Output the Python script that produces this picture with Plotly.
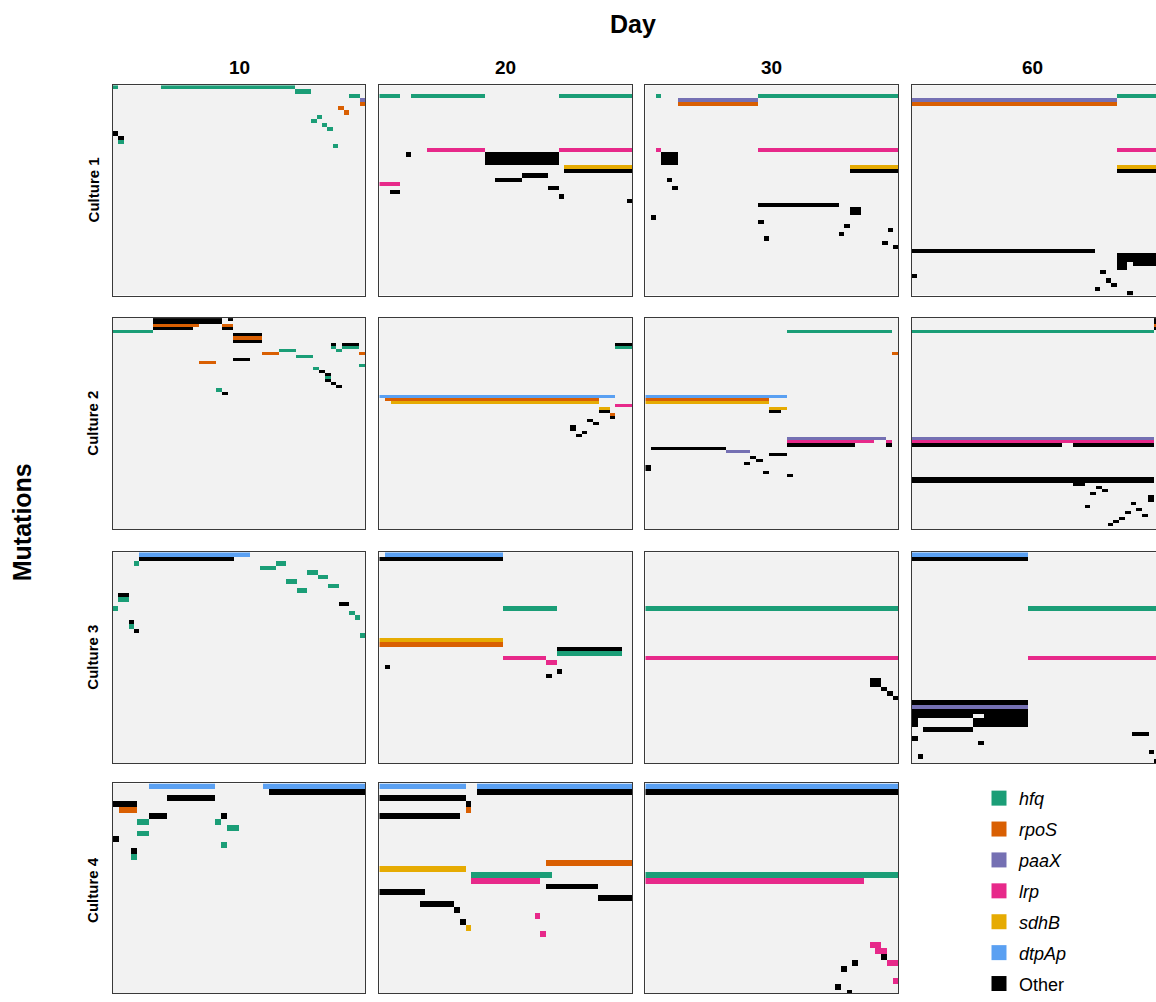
import numpy as np
import plotly.graph_objects as go

# ---------------- data ----------------
genes = ["hfq", "rpoS", "paaX", "lrp", "sdhB", "dtpAp", "Other"]
gene_colors = ["#1B9E77", "#D95F02", "#7570B3", "#E7298A", "#E6AB02", "#5AA0F2", "#000000"]
absent_color = "#F2F2F2"
days = ["10", "20", "30", "60"]
cultures = ["Culture 1", "Culture 2", "Culture 3", "Culture 4"]
mutations_per_culture = [50, 69, 47, 36]
clones_per_panel = [[47, 48, 47, 47],
                    [44, 45, 41, 44],
                    [48, 47, 45, 46],
                    [42, 44, 44, None]]

# runs: (mutation row, first clone, last clone, gene)
c1_d10 = [(0, 0, 0, "hfq"), (0, 9, 33, "hfq"), (1, 34, 36, "hfq"), (2, 44, 45, "hfq"),
          (3, 46, 46, "paaX"), (4, 46, 46, "rpoS"), (5, 42, 42, "rpoS"), (6, 43, 43, "rpoS"),
          (7, 38, 38, "hfq"), (8, 37, 37, "hfq"), (9, 39, 39, "hfq"), (10, 40, 40, "hfq"),
          (11, 0, 0, "Other"), (12, 1, 1, "Other"), (13, 1, 1, "hfq"), (14, 41, 41, "hfq")]
c1_d20 = [(2, 0, 3, "hfq"), (2, 6, 19, "hfq"), (2, 34, 47, "hfq"), (15, 9, 19, "lrp"),
          (15, 34, 47, "lrp"), (16, 20, 33, "Other"), (17, 20, 33, "Other"), (18, 20, 33, "Other"),
          (16, 5, 5, "Other"), (19, 35, 47, "sdhB"), (20, 35, 47, "Other"), (21, 27, 31, "Other"),
          (22, 22, 26, "Other"), (23, 0, 3, "lrp"), (24, 32, 33, "Other"), (25, 2, 3, "Other"),
          (26, 34, 34, "Other"), (27, 47, 47, "Other")]
c1_d30 = [(2, 2, 2, "hfq"), (3, 6, 20, "paaX"), (4, 6, 20, "rpoS"), (2, 21, 46, "hfq"),
          (15, 2, 2, "lrp"), (16, 3, 5, "Other"), (17, 3, 5, "Other"), (18, 3, 5, "Other"),
          (15, 21, 46, "lrp"), (19, 38, 46, "sdhB"), (20, 38, 46, "Other"), (22, 4, 4, "Other"),
          (24, 5, 5, "Other"), (28, 21, 35, "Other"), (29, 38, 39, "Other"), (30, 38, 39, "Other"),
          (31, 1, 1, "Other"), (32, 21, 21, "Other"), (33, 37, 37, "Other"), (34, 45, 45, "Other"),
          (35, 36, 36, "Other"), (36, 22, 22, "Other"), (37, 44, 44, "Other"), (38, 46, 46, "Other")]
c1_d60 = [(3, 0, 37, "paaX"), (4, 0, 37, "rpoS"), (2, 38, 46, "hfq"), (15, 38, 46, "lrp"),
          (19, 38, 46, "sdhB"), (20, 38, 46, "Other"), (39, 0, 33, "Other"), (40, 38, 46, "Other"),
          (41, 38, 46, "Other"), (42, 38, 39, "Other"), (42, 41, 46, "Other"), (43, 38, 39, "Other"),
          (44, 35, 35, "Other"), (45, 0, 0, "Other"), (46, 36, 36, "Other"), (47, 37, 37, "Other"),
          (48, 34, 34, "Other"), (49, 40, 40, "Other")]

c2_d10 = [(0, 7, 18, "Other"), (1, 7, 18, "Other"), (0, 20, 20, "Other"), (2, 7, 14, "rpoS"),
          (2, 19, 20, "rpoS"), (3, 7, 13, "Other"), (3, 19, 20, "Other"), (4, 0, 6, "hfq"),
          (5, 21, 25, "Other"), (6, 21, 25, "rpoS"), (7, 21, 25, "Other"), (8, 38, 38, "Other"),
          (8, 40, 42, "Other"), (9, 38, 38, "hfq"), (9, 40, 42, "hfq"), (10, 39, 39, "hfq"),
          (10, 29, 31, "hfq"), (11, 26, 28, "rpoS"), (11, 43, 43, "rpoS"), (12, 32, 34, "hfq"),
          (13, 21, 23, "Other"), (14, 15, 17, "rpoS"), (15, 43, 43, "hfq"), (16, 35, 35, "hfq"),
          (17, 36, 36, "Other"), (18, 37, 37, "Other"), (19, 37, 37, "hfq"), (20, 37, 37, "Other"),
          (21, 38, 38, "Other"), (22, 39, 39, "Other"), (23, 18, 18, "hfq"), (24, 19, 19, "Other")]
c2_d20 = [(8, 42, 44, "Other"), (9, 42, 44, "hfq"), (25, 0, 41, "dtpAp"), (26, 1, 38, "rpoS"),
          (27, 2, 38, "sdhB"), (28, 42, 44, "lrp"), (29, 39, 40, "sdhB"), (30, 39, 40, "Other"),
          (31, 41, 41, "rpoS"), (32, 41, 41, "Other"), (33, 37, 37, "Other"), (34, 38, 38, "Other"),
          (35, 34, 34, "Other"), (36, 34, 34, "Other"), (37, 36, 36, "Other"), (38, 35, 35, "Other")]
c2_d30 = [(4, 23, 39, "hfq"), (11, 40, 40, "rpoS"), (25, 0, 22, "dtpAp"), (26, 0, 19, "rpoS"),
          (27, 0, 19, "sdhB"), (29, 20, 22, "sdhB"), (30, 20, 21, "Other"), (39, 23, 38, "paaX"),
          (40, 23, 36, "lrp"), (40, 39, 39, "lrp"), (41, 23, 33, "Other"), (41, 39, 39, "Other"),
          (42, 1, 12, "Other"), (43, 13, 16, "paaX"), (44, 20, 22, "Other"), (45, 17, 17, "Other"),
          (46, 18, 18, "Other"), (47, 16, 16, "Other"), (48, 0, 0, "Other"), (49, 0, 0, "Other"),
          (50, 19, 19, "Other"), (51, 23, 23, "Other")]
c2_d60 = [(0, 42, 43, "Other"), (1, 42, 43, "Other"), (2, 42, 43, "rpoS"), (3, 42, 43, "Other"),
          (4, 0, 41, "hfq"), (39, 0, 41, "paaX"), (40, 0, 41, "lrp"), (41, 0, 25, "Other"),
          (41, 28, 41, "Other"), (52, 0, 41, "Other"), (53, 0, 41, "Other"), (54, 28, 29, "Other"),
          (55, 32, 32, "Other"), (56, 33, 33, "Other"), (57, 31, 31, "Other"), (58, 41, 41, "Other"),
          (59, 41, 41, "Other"), (60, 38, 38, "Other"), (61, 30, 30, "Other"), (62, 39, 39, "Other"),
          (63, 37, 37, "Other"), (64, 40, 40, "Other"), (65, 36, 36, "Other"), (66, 35, 35, "Other"),
          (67, 34, 34, "Other")]

c3_d10 = [(0, 5, 25, "dtpAp"), (1, 5, 22, "Other"), (2, 4, 4, "hfq"), (2, 31, 32, "hfq"),
          (3, 28, 30, "hfq"), (4, 37, 38, "hfq"), (5, 39, 40, "hfq"), (6, 33, 34, "hfq"),
          (7, 41, 42, "hfq"), (8, 35, 36, "hfq"), (9, 1, 2, "Other"), (10, 1, 2, "hfq"),
          (11, 43, 44, "Other"), (12, 0, 0, "hfq"), (13, 45, 45, "hfq"), (14, 46, 46, "hfq"),
          (15, 3, 3, "Other"), (16, 3, 3, "hfq"), (17, 4, 4, "Other"), (18, 47, 47, "hfq")]
c3_d20 = [(0, 1, 22, "dtpAp"), (1, 0, 22, "Other"), (12, 23, 32, "hfq"), (19, 0, 22, "sdhB"),
          (20, 0, 22, "rpoS"), (21, 33, 44, "Other"), (22, 33, 44, "hfq"), (23, 23, 30, "lrp"),
          (24, 31, 32, "lrp"), (25, 1, 1, "Other"), (26, 33, 33, "Other"), (27, 31, 31, "Other")]
c3_d30 = [(12, 0, 44, "hfq"), (23, 0, 44, "lrp"), (28, 40, 41, "Other"), (29, 40, 41, "Other"),
          (30, 42, 42, "Other"), (31, 43, 43, "Other"), (32, 44, 44, "Other")]
c3_d60 = [(0, 0, 20, "dtpAp"), (1, 0, 20, "Other"), (12, 21, 45, "hfq"), (23, 21, 45, "lrp"),
          (33, 0, 20, "Other"), (34, 0, 20, "paaX"), (35, 0, 20, "Other"), (36, 0, 10, "Other"),
          (36, 13, 20, "Other"), (37, 0, 0, "Other"), (37, 11, 20, "Other"), (38, 0, 0, "Other"),
          (38, 11, 20, "Other"), (39, 2, 10, "Other"), (40, 40, 42, "Other"), (41, 0, 0, "Other"),
          (42, 12, 12, "Other"), (44, 43, 43, "Other"), (45, 1, 1, "Other"), (46, 44, 44, "Other")]

c4_d10 = [(0, 6, 16, "dtpAp"), (0, 25, 41, "dtpAp"), (1, 26, 41, "Other"), (2, 9, 16, "Other"),
          (3, 0, 3, "Other"), (4, 1, 3, "rpoS"), (5, 6, 8, "Other"), (5, 18, 18, "Other"),
          (6, 4, 5, "hfq"), (6, 17, 17, "hfq"), (7, 19, 20, "hfq"), (8, 4, 5, "hfq"),
          (9, 0, 0, "Other"), (10, 18, 18, "hfq"), (11, 3, 3, "Other"), (12, 3, 3, "hfq")]
c4_d20 = [(0, 0, 14, "dtpAp"), (0, 17, 43, "dtpAp"), (1, 17, 43, "Other"), (2, 0, 14, "Other"),
          (3, 15, 15, "Other"), (4, 15, 15, "rpoS"), (5, 0, 13, "Other"), (13, 29, 43, "rpoS"),
          (14, 0, 14, "sdhB"), (15, 16, 29, "hfq"), (16, 16, 27, "lrp"), (17, 29, 37, "Other"),
          (18, 0, 7, "Other"), (19, 38, 43, "Other"), (20, 7, 12, "Other"), (21, 13, 13, "Other"),
          (22, 27, 27, "lrp"), (23, 14, 14, "Other"), (24, 15, 15, "sdhB"), (25, 28, 28, "lrp")]
c4_d30 = [(0, 0, 43, "dtpAp"), (1, 0, 43, "Other"), (15, 0, 43, "hfq"), (16, 0, 37, "lrp"),
          (27, 39, 40, "lrp"), (28, 40, 41, "lrp"), (29, 41, 41, "Other"), (30, 36, 36, "Other"),
          (30, 42, 43, "lrp"), (31, 34, 34, "Other"), (33, 43, 43, "lrp"), (34, 33, 33, "Other"),
          (35, 35, 35, "Other")]

panel_runs = [[c1_d10, c1_d20, c1_d30, c1_d60],
              [c2_d10, c2_d20, c2_d30, c2_d60],
              [c3_d10, c3_d20, c3_d30, c3_d60],
              [c4_d10, c4_d20, c4_d30, None]]

# ---------------- layout geometry (pixels) ----------------
W, H = 1156, 1002
col_px = [(113, 365.3), (379.3, 632), (645.3, 898.3), (912, 1164.5)]
row_px = [(86, 298.3), (321, 534), (557.3, 770), (790.5, 1004)]

n_codes = len(genes) + 1
colors_all = [absent_color] + gene_colors
colorscale = []
for i, c in enumerate(colors_all):
    colorscale.append([i / n_codes, c])
    colorscale.append([(i + 1) / n_codes, c])

fig = go.Figure()
layout_axes = {}
k = 0
for r in range(4):
    for c in range(4):
        runs = panel_runs[r][c]
        if runs is None:
            continue
        k += 1
        nrow = mutations_per_culture[r]
        ncol = clones_per_panel[r][c]
        z = np.zeros((nrow, ncol), dtype=int)
        for (m, a, b, g) in runs:
            z[m, a:b + 1] = genes.index(g) + 1
        xname = "x" if k == 1 else f"x{k}"
        yname = "y" if k == 1 else f"y{k}"
        fig.add_trace(go.Heatmap(
            z=z, x=np.arange(ncol), y=np.arange(nrow),
            colorscale=colorscale, zmin=-0.5, zmax=n_codes - 0.5,
            showscale=False, hoverinfo="skip", xaxis=xname, yaxis=yname))
        x0, x1 = col_px[c]
        y0, y1 = row_px[r]
        vx1 = min(x1, W)
        vy1 = min(y1, H)
        xr = [-0.5, -0.5 + ncol * (vx1 - x0) / (x1 - x0)]
        yr = [-0.5 + nrow * (vy1 - y0) / (y1 - y0), -0.5]
        ax_common = dict(showgrid=False, zeroline=False, showticklabels=False, ticks="",
                         showline=True, linecolor="#3a3a3a", linewidth=1)
        layout_axes["xaxis" if k == 1 else f"xaxis{k}"] = dict(
            domain=[x0 / W, vx1 / W], range=xr, anchor=yname, mirror=True, **ax_common)
        layout_axes["yaxis" if k == 1 else f"yaxis{k}"] = dict(
            domain=[1 - vy1 / H, 1 - y0 / H], range=yr, anchor=xname,
            mirror=(x1 <= W), **ax_common)

# legend entries
for g, col in zip(genes, gene_colors):
    label = g if g == "Other" else f"<i>{g}</i>"
    fig.add_trace(go.Scatter(x=[None], y=[None], mode="markers", name=label,
                             legendgroup=g,
                             marker=dict(symbol="square", size=15, color=col),
                             xaxis="x", yaxis="y", hoverinfo="skip"))

font_family = "Liberation Sans, Arial, sans-serif"
annotations = [dict(text="<b>Day</b>", x=633 / W, y=1 - 24 / H, xref="paper", yref="paper",
                    showarrow=False, font=dict(size=25, color="black"), xanchor="center",
                    yanchor="middle")]
for c, d in enumerate(days):
    x0, x1 = col_px[c]
    xc = (x0 + x1) / 2 if c < 3 else 1032
    annotations.append(dict(text=f"<b>{d}</b>", x=xc / W, y=1 - 68 / H, xref="paper", yref="paper",
                            showarrow=False, font=dict(size=19, color="black"),
                            xanchor="center", yanchor="middle"))
for r, cu in enumerate(cultures):
    y0, y1 = row_px[r]
    yc = (y0 + min(y1, H)) / 2 if r < 3 else 898
    annotations.append(dict(text=f"<b>{cu}</b>", x=93 / W, y=1 - yc / H, xref="paper", yref="paper",
                            showarrow=False, textangle=-90, font=dict(size=15, color="black"),
                            xanchor="center", yanchor="middle"))
annotations.append(dict(text="<b>Mutations</b>", x=22 / W, y=1 - 527 / H, xref="paper", yref="paper",
                        showarrow=False, textangle=-90, font=dict(size=25, color="black"),
                        xanchor="center", yanchor="middle"))

fig.update_layout(
    width=W, height=H, margin=dict(l=0, r=0, t=0, b=0),
    paper_bgcolor="white", plot_bgcolor="white",
    font=dict(family=font_family, color="black"),
    annotations=annotations,
    showlegend=True,
    legend=dict(x=979 / W, y=1 - 787 / H, xanchor="left", yanchor="top",
                font=dict(size=18, color="black"), tracegroupgap=4.5,
                bgcolor="rgba(0,0,0,0)"),
    **layout_axes)

fig.write_html("out.html",
               config={"displayModeBar": False},
               post_script="document.documentElement.style.margin='0px';"
                           "document.documentElement.style.overflow='hidden';"
                           "document.body.style.margin='0px';"
                           "document.body.style.overflow='hidden';")
